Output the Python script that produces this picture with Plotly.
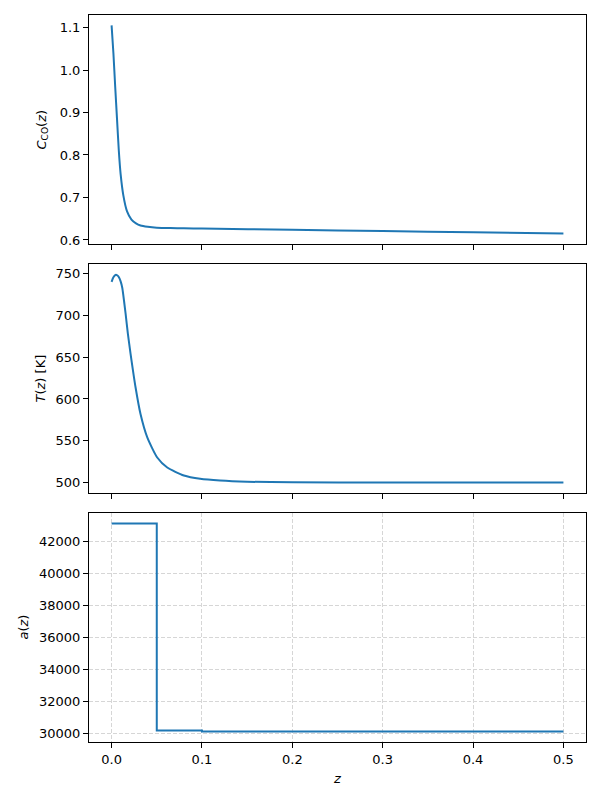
import plotly.graph_objects as go
from plotly.subplots import make_subplots

# Concentration profile
z_c = [0.0, 0.002, 0.004, 0.006, 0.008, 0.010, 0.013, 0.017, 0.022, 0.027, 0.032,
       0.040, 0.050, 0.065, 0.080, 0.100, 0.200, 0.300, 0.400, 0.500]
c_co = [1.105, 1.040, 0.960, 0.885, 0.810, 0.755, 0.705, 0.668, 0.648, 0.639, 0.634,
        0.631, 0.629, 0.628, 0.6275, 0.627, 0.624, 0.621, 0.618, 0.615]

# Temperature profile
z_t = [0.0, 0.002, 0.0044, 0.0065, 0.0081, 0.010, 0.0118, 0.0155, 0.018, 0.021, 0.0265,
       0.032, 0.0395, 0.0505, 0.0616, 0.080, 0.098, 0.120, 0.150, 0.200, 0.300, 0.400, 0.500]
temp = [740.0, 745.5, 748.3, 747.6, 745.5, 740.5, 733.0, 702.0, 678.0, 654.0, 614.0,
        582.0, 554.0, 530.0, 518.0, 508.5, 504.5, 502.4, 501.0, 500.3, 500.0, 500.0, 500.0]

# Step profile a(z)
z_a = [0.0, 0.05, 0.10, 0.50]
a_val = [43150, 30200, 30130, 30130]

x_ticks = [0.0, 0.1, 0.2, 0.3, 0.4, 0.5]
y1_ticks = [0.6, 0.7, 0.8, 0.9, 1.0, 1.1]
y2_ticks = [500, 550, 600, 650, 700, 750]
y3_ticks = [30000, 32000, 34000, 36000, 38000, 40000, 42000]

BLUE = "#1f77b4"
FONT = "DejaVu Sans"
FS = 13
GRID = "#d6d6d6"
GDASH = "4px,2px"

L, R, T, B = 89, 14, 15, 58
PW = 600 - L - R

fig = make_subplots(rows=3, cols=1, shared_xaxes=True)

fig.add_trace(go.Scatter(x=z_c, y=c_co, mode="lines",
                         line=dict(color=BLUE, width=2, shape="spline", smoothing=0.5)), row=1, col=1)
fig.add_trace(go.Scatter(x=z_t, y=temp, mode="lines",
                         line=dict(color=BLUE, width=2, shape="spline", smoothing=0.6)), row=2, col=1)
fig.add_trace(go.Scatter(x=z_a, y=a_val, mode="lines",
                         line=dict(color=BLUE, width=2, shape="hv")), row=3, col=1)

H = 727.0
doms = [(1 - 229 / H, 1.0), (1 - (229 + 20 + 229) / H, 1 - (229 + 20) / H), (0.0, 229 / H)]

axcommon = dict(showline=True, linecolor="black", linewidth=1.1, mirror=True,
                ticks="outside", ticklen=5, tickwidth=1.1, tickcolor="black",
                tickfont=dict(family=FONT, size=FS, color="black"),
                zeroline=False)

xr = [-0.025, 0.525]
fig.update_layout(
    xaxis=dict(range=xr, tickvals=x_ticks, showticklabels=False, showgrid=False, **axcommon),
    xaxis2=dict(range=xr, tickvals=x_ticks, showticklabels=False, showgrid=False, **axcommon),
    xaxis3=dict(range=xr, tickvals=x_ticks, tickformat=".1f", showgrid=True,
                gridcolor=GRID, griddash=GDASH, gridwidth=1,
                title=dict(text="<i>z</i>", font=dict(family=FONT, size=FS, color="black"), standoff=8),
                **axcommon),
    yaxis=dict(domain=doms[0], range=[0.5905, 1.1295], tickvals=y1_ticks, tickformat=".1f",
               showgrid=False, **axcommon),
    yaxis2=dict(domain=doms[1], range=[487.55, 761.35], tickvals=y2_ticks, tickformat="d",
                showgrid=False, **axcommon),
    yaxis3=dict(domain=doms[2], range=[29474, 43801], tickvals=y3_ticks, tickformat="d",
                showgrid=True, gridcolor=GRID, griddash=GDASH, gridwidth=1,
                **axcommon),
    width=600, height=800,
    margin=dict(l=L, r=R, t=T, b=B, autoexpand=False),
    plot_bgcolor="white", paper_bgcolor="white",
    showlegend=False,
    font=dict(family=FONT, size=FS, color="black"),
)

ytitles = [("<i>C</i><sub>CO</sub>(<i>z</i>)", "y domain", 42),
           ("<i>T</i>(<i>z</i>) [K]", "y2 domain", 40),
           ("<i>a</i>(<i>z</i>)", "y3 domain", 23)]
for txt, yref, px in ytitles:
    fig.add_annotation(text=txt, textangle=-90, xref="paper", x=(px - L) / float(PW),
                       yref=yref, y=0.5, xanchor="center", yanchor="middle",
                       showarrow=False, font=dict(family=FONT, size=FS, color="black"))

fig.write_html("out.html", config={"displayModeBar": False},
               post_script="document.body.style.margin='0';")
